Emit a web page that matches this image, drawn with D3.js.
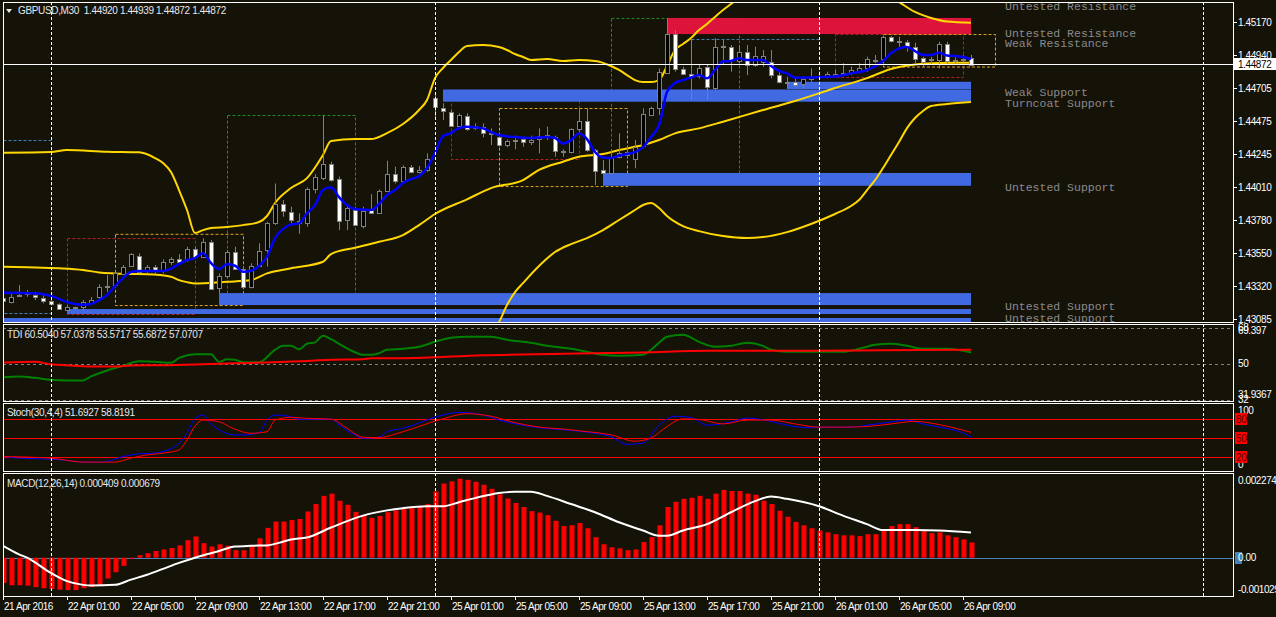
<!DOCTYPE html>
<html>
<head>
<meta charset="utf-8">
<script src="https://cdn.jsdelivr.net/npm/d3@7"></script>
<style>
  body { margin: 0; background: #151208; }
  svg { display: block; }
  text { font-family: "Liberation Sans", Arial, sans-serif; }
</style>
</head>
<body>
<svg id="chart" width="1276" height="617"></svg>
<script>
// ---- data ----
const symbolTitle = "GBPUSD,M30  1.44920 1.44939 1.44872 1.44872";
const tdiTitle = "TDI 60.5040 57.0378 53.5717 55.6872 57.0707";
const stochTitle = "Stoch(30,4,4) 51.6927 58.8191";
const macdTitle = "MACD(12,26,14) 0.000409 0.000679";
const lastPrice = 1.44872;

const timeTickBars = [0, 8, 16, 24, 32, 40, 48, 56, 64, 72, 80, 88, 96, 104, 112, 120];
const timeLabels = ["21 Apr 2016", "22 Apr 01:00", "22 Apr 05:00", "22 Apr 09:00", "22 Apr 13:00",
  "22 Apr 17:00", "22 Apr 21:00", "25 Apr 01:00", "25 Apr 05:00", "25 Apr 09:00", "25 Apr 13:00",
  "25 Apr 17:00", "25 Apr 21:00", "26 Apr 01:00", "26 Apr 05:00", "26 Apr 09:00"];
const separatorBars = [6, 54, 102, 150];
const priceTicks = [1.45170, 1.44940, 1.44705, 1.44475, 1.44245, 1.44010, 1.43780, 1.43550, 1.43320, 1.43085];

const opens = [1.43234,1.43209,1.43241,1.43269,1.43253,1.43230,1.43211,1.43188,1.43153,1.43167,
  1.43168,1.43197,1.43241,1.43311,1.43323,1.43405,1.43457,1.43529,1.43417,1.43452,
  1.43417,1.43482,1.43508,1.43503,1.43574,1.43520,1.43623,1.43300,1.43387,1.43553,
  1.43438,1.43311,1.43459,1.43564,1.43756,1.43890,1.43838,1.43759,1.43756,1.43995,
  1.44072,1.44171,1.44065,1.43780,1.43850,1.43742,1.43850,1.43830,1.43985,1.44102,
  1.44051,1.44150,1.44117,1.44131,1.44634,1.44564,1.44540,1.44442,1.44512,1.44423,
  1.44435,1.44390,1.44364,1.44301,1.44332,1.44345,1.44329,1.44345,1.44373,1.44364,
  1.44264,1.44255,1.44416,1.44475,1.44271,1.44131,1.44112,1.44224,1.44257,1.44213,
  1.44294,1.44522,1.44568,1.44814,1.45085,1.44837,1.44805,1.44791,1.44852,1.44704,
  1.44996,1.44992,1.44898,1.44961,1.44868,1.44891,1.44887,1.44797,1.44748,1.44751,
  1.44732,1.44767,1.44786,1.44791,1.44797,1.44805,1.44814,1.44821,1.44844,1.44906,
  1.44908,1.45062,1.45031,1.45031,1.44996,1.44915,1.44898,1.44903,1.45015,1.44898,
  1.44906,1.44920];
const highs = [1.43241,1.43265,1.43323,1.43288,1.43276,1.43253,1.43230,1.43195,1.43183,1.43171,
  1.43218,1.43239,1.43328,1.43393,1.43417,1.43464,1.43546,1.43546,1.43464,1.43464,
  1.43503,1.43520,1.43541,1.43592,1.43592,1.43651,1.43639,1.43405,1.43569,1.43592,
  1.43452,1.43476,1.43616,1.43768,1.44036,1.43920,1.43873,1.43827,1.44009,1.44102,
  1.44517,1.44189,1.44084,1.43873,1.43873,1.43873,1.43962,1.43995,1.44196,1.44154,
  1.44164,1.44166,1.44159,1.44248,1.44669,1.44599,1.44552,1.44529,1.44529,1.44458,
  1.44458,1.44423,1.44372,1.44345,1.44372,1.44364,1.44372,1.44423,1.44435,1.44372,
  1.44276,1.44423,1.44564,1.44564,1.44278,1.44201,1.44271,1.44388,1.44294,1.44341,
  1.44564,1.44575,1.44844,1.45196,1.45113,1.44856,1.45057,1.44868,1.44868,1.45055,
  1.45043,1.45008,1.45008,1.45008,1.44996,1.44973,1.44973,1.44821,1.44786,1.44786,
  1.44786,1.44844,1.44821,1.44821,1.44833,1.44880,1.44856,1.44880,1.44926,1.44938,
  1.45071,1.45071,1.45066,1.45043,1.45024,1.44926,1.44926,1.45031,1.45031,1.44926,
  1.44938,1.44939];
const lows = [1.43195,1.43195,1.43239,1.43241,1.43218,1.43195,1.43183,1.43148,1.43143,1.43148,
  1.43148,1.43183,1.43218,1.43276,1.43311,1.43393,1.43452,1.43405,1.43405,1.43405,
  1.43405,1.43464,1.43476,1.43487,1.43504,1.43515,1.43288,1.43265,1.43370,1.43430,
  1.43300,1.43300,1.43452,1.43452,1.43745,1.43803,1.43756,1.43683,1.43733,1.43967,
  1.44060,1.44049,1.43709,1.43709,1.43737,1.43721,1.43823,1.43823,1.43978,1.44036,
  1.44041,1.44108,1.44108,1.44119,1.44482,1.44482,1.44440,1.44435,1.44406,1.44411,
  1.44360,1.44306,1.44294,1.44290,1.44276,1.44294,1.44306,1.44248,1.44341,1.44224,
  1.44224,1.44248,1.44400,1.44259,1.44026,1.44096,1.44108,1.44213,1.44213,1.44143,
  1.44283,1.44517,1.44517,1.44805,1.44821,1.44797,1.44622,1.44774,1.44622,1.44692,
  1.44868,1.44821,1.44880,1.44797,1.44856,1.44856,1.44774,1.44739,1.44704,1.44720,
  1.44704,1.44751,1.44762,1.44774,1.44786,1.44797,1.44797,1.44809,1.44821,1.44880,
  1.44903,1.45026,1.44996,1.44961,1.44880,1.44856,1.44868,1.44844,1.44868,1.44880,
  1.44891,1.44872];
const closes = [1.43211,1.43241,1.43250,1.43260,1.43241,1.43211,1.43190,1.43153,1.43171,1.43170,
  1.43206,1.43218,1.43311,1.43314,1.43405,1.43452,1.43541,1.43417,1.43448,1.43430,
  1.43482,1.43504,1.43487,1.43576,1.43518,1.43625,1.43293,1.43387,1.43553,1.43435,
  1.43311,1.43459,1.43564,1.43756,1.43892,1.43843,1.43780,1.43773,1.43995,1.44079,
  1.44171,1.44060,1.43773,1.43862,1.43745,1.43845,1.43828,1.43985,1.44102,1.44051,
  1.44150,1.44117,1.44131,1.44206,1.44571,1.44545,1.44442,1.44517,1.44418,1.44440,
  1.44392,1.44383,1.44311,1.44332,1.44339,1.44325,1.44343,1.44369,1.44362,1.44264,
  1.44255,1.44416,1.44475,1.44271,1.44126,1.44108,1.44224,1.44250,1.44233,1.44294,
  1.44522,1.44568,1.44821,1.45085,1.44837,1.44805,1.44786,1.44844,1.44711,1.44992,
  1.44998,1.44898,1.44961,1.44868,1.44933,1.44931,1.44797,1.44746,1.44743,1.44732,
  1.44769,1.44781,1.44791,1.44805,1.44808,1.44814,1.44833,1.44844,1.44908,1.44899,
  1.45062,1.45031,1.45033,1.44996,1.44915,1.44884,1.44908,1.45015,1.44898,1.44906,
  1.44913,1.44872];

// blue moving average and bollinger bands: [bar, price]
const maBlue = [[0,1.43269],[4,1.43265],[6,1.43246],[8,1.43204],[9,1.43190],[10,1.43185],[11,1.43190],
  [12,1.43218],[13,1.43253],[14,1.43316],[15,1.43372],[16,1.43415],[17,1.43422],[20,1.43422],[21,1.43439],
  [22,1.43471],[23,1.43499],[24,1.43513],[25,1.43546],[26,1.43478],[27,1.43436],[28,1.43469],[29,1.43459],
  [30,1.43417],[31,1.43424],[32,1.43457],[33,1.43522],[34,1.43653],[35,1.43716],[36,1.43749],[37,1.43756],
  [38,1.43827],[39,1.43885],[40,1.43990],[41,1.44009],[42,1.43941],[43,1.43885],[44,1.43857],[45,1.43853],
  [46,1.43850],[47,1.43892],[48,1.43955],[49,1.43990],[50,1.44039],[51,1.44067],[52,1.44088],[53,1.44145],
  [54,1.44250],[55,1.44369],[56,1.44390],[57,1.44425],[58,1.44435],[60,1.44423],[61,1.44397],[62,1.44376],
  [64,1.44362],[66,1.44355],[68,1.44362],[69,1.44355],[70,1.44317],[71,1.44341],[72,1.44387],[73,1.44348],
  [74,1.44257],[75,1.44218],[76,1.44215],[77,1.44232],[78,1.44243],[79,1.44257],[80,1.44292],[81,1.44362],
  [82,1.44446],[83,1.44678],[84,1.44741],[85,1.44762],[86,1.44780],[87,1.44797],[88,1.44774],[89,1.44833],
  [90,1.44892],[91,1.44896],[92,1.44915],[93,1.44903],[95,1.44903],[96,1.44861],[97,1.44826],[98,1.44809],
  [99,1.44779],[101,1.44780],[104,1.44787],[106,1.44809],[108,1.44833],[110,1.44896],[111,1.44950],
  [112,1.44984],[113,1.44994],[114,1.44966],[115,1.44938],[116,1.44938],[117,1.44954],[118,1.44934],
  [119,1.44931],[120,1.44924],[121,1.44910]];
const bbUpper = [[0,1.44252],[6,1.44257],[8,1.44271],[13,1.44259],[17,1.44255],[19,1.44215],[20,1.44180],
  [21,1.44117],[22,1.43990],[23,1.43850],[24,1.43688],[25,1.43709],[26,1.43723],[28,1.43730],[30,1.43744],
  [32,1.43766],[33,1.43808],[34,1.43899],[36,1.44004],[38,1.44074],[40,1.44236],[41,1.44334],[44,1.44348],
  [46,1.44348],[48,1.44390],[50,1.44454],[52,1.44552],[53,1.44622],[54,1.44776],[55,1.44847],[56,1.44903],
  [57,1.44959],[58,1.45001],[60,1.45008],[62,1.44994],[63,1.44973],[64,1.44945],[65,1.44924],[66,1.44903],
  [68,1.44910],[70,1.44896],[72,1.44903],[74,1.44896],[76,1.44861],[77,1.44833],[78,1.44797],[79,1.44762],
  [80,1.44748],[81,1.44748],[82,1.44762],[83,1.44861],[84,1.44973],[85,1.45015],[86,1.45057],[87,1.45113],
  [88,1.45156],[89,1.45205],[90,1.45254],[91,1.45296],[92,1.45338],[94,1.45420],[98,1.45500],[102,1.45520],
  [106,1.45480],[110,1.45380],[112,1.45310],[114,1.45240],[116,1.45198],[118,1.45173],[121,1.45165]];
const bbMiddle = [[0,1.43452],[3,1.43448],[7,1.43441],[10,1.43429],[12,1.43412],[16,1.43401],[18,1.43399],
  [21,1.43382],[22,1.43358],[23,1.43344],[24,1.43335],[26,1.43339],[28,1.43346],[31,1.43358],[33,1.43405],
  [36,1.43441],[40,1.43487],[41,1.43541],[44,1.43585],[47,1.43627],[50,1.43674],[52,1.43744],[54,1.43822],
  [58,1.43925],[61,1.44004],[65,1.44060],[67,1.44131],[70,1.44189],[72,1.44224],[75,1.44243],[77,1.44271],
  [80,1.44306],[82,1.44341],[84,1.44388],[87,1.44423],[90,1.44470],[95,1.44552],[99,1.44615],[104,1.44706],
  [108,1.44776],[111,1.44840],[114,1.44871],[117,1.44882],[121,1.44884]];
const bbLower = [[0,1.42652],[20,1.42580],[24,1.42982],[34,1.42941],[40,1.42738],[46,1.42852],[52,1.42936],
  [56,1.42857],[60,1.42950],[62,1.43064],[63,1.43183],[64,1.43274],[65,1.43337],[67,1.43457],[69,1.43555],
  [71,1.43611],[73,1.43653],[75,1.43709],[77,1.43780],[79,1.43850],[80,1.43885],[81,1.43899],[82,1.43864],
  [83,1.43808],[85,1.43737],[87,1.43702],[90,1.43667],[93,1.43653],[95,1.43660],[98,1.43695],[101,1.43752],
  [104,1.43822],[106,1.43878],[107,1.43920],[108,1.43990],[109,1.44060],[110,1.44145],[111,1.44236],
  [112,1.44327],[113,1.44425],[114,1.44496],[115,1.44545],[116,1.44580],[118,1.44594],[121,1.44608]];

// supply / demand zones
const zoneFrom = [83, 55, 98, 75, 27, 8, 0];
const zoneTo = [121, 121, 121, 121, 121, 121, 121];
const zoneHigh = [1.45198, 1.44696, 1.44750, 1.44110, 1.43267, 1.43155, 1.43092];
const zoneLow = [1.45085, 1.44610, 1.44699, 1.44020, 1.43183, 1.43120, 1.43064];
const zoneKind = ["supply", "demand", "demand", "demand", "demand", "demand", "demand"];
const zoneLabelPrice = [1.45275, 1.45087, 1.45017, 1.44673, 1.44596, 1.44006, 1.43171, 1.43087];
const zoneLabelText = ["Untested Resistance", "Untested Resistance", "Weak Resistance", "Weak Support",
  "Turncoat Support", "Untested Support", "Untested Support", "Untested Support"];

// dashed range boxes
const boxFrom = [-10, 8, 14, 28, 56, 62, 76, 86, 104, 110];
const boxTo = [6, 24, 30, 44, 72, 78, 92, 102, 120, 124];
const boxHigh = [1.44341, 1.43653, 1.43683, 1.44517, 1.44671, 1.44566, 1.45198, 1.45050, 1.45085, 1.45085];
const boxLow = [1.43127, 1.43120, 1.43183, 1.43211, 1.44208, 1.44018, 1.44067, 1.44622, 1.44784, 1.44857];
const boxSet = [0, 1, 2, 3, 1, 2, 3, 0, 1, 2];

// TDI: [bar, value]
const tdiPrice = [[0,43.2],[2,43.7],[4,43.0],[6,42.0],[8,41.7],[10,41.7],[11,43.7],[13,46.7],[15,49],[17,51.3],
  [19,51],[21,50.5],[22,53],[24,54.8],[26,54.8],[27,51],[28,52.3],[29,52],[30,50.8],[32,50.8],[34,57],
  [35,59],[36,59],[37,57.3],[38,60],[39,60.7],[40,64],[41,62.3],[42,60],[44,55.8],[45,54.5],[46,54.5],
  [47,55.3],[48,57],[50,57.5],[52,58.5],[54,61],[56,63],[58,63.5],[61,63.5],[63,62],[66,60.5],[68,59],
  [71,57.5],[73,56],[75,54.5],[77,54],[80,54.5],[81,57],[82,60.5],[83,63.5],[85,64.5],[87,61],[89,58.5],
  [91,59],[93,60.5],[95,59],[96,57],[98,56],[101,56],[105,56],[107,57.5],[109,59.5],[111,60],[113,59],
  [115,57.5],[118,57.5],[121,55.7]];
const tdiSignal = [[0,50.7],[4,51],[6,49.8],[8,49.3],[11,48.7],[14,48.7],[16,49.2],[20,49.3],[25,49.8],
  [29,50.3],[33,50.7],[37,51.3],[41,52],[45,52.3],[46,52.8],[50,52.8],[60,54.3],[70,55],[80,55.7],
  [88,56.5],[100,56.5],[110,56.8],[121,57.07]];
const tdiLevels = [68, 50, 32];

// Stochastic: [bar, value]
const stochMain = [[0,21],[2,18.5],[6,17],[8,14.8],[10,12.3],[12,12.3],[13,13.3],[15,21],[17,25.2],[19,26.3],
  [20,28.8],[22,41.8],[23,57.4],[24,80.7],[25,85.8],[26,72],[27,62.5],[29,54.7],[30,54.7],[32,58.3],[33,78],
  [34,85.8],[36,83.2],[37,79.2],[38,79.2],[41,79.6],[42,70.3],[44,54.7],[45,49.6],[47,51.2],[48,59.9],
  [50,65.2],[55,86],[57,90],[60,86],[62,78],[65,70],[67,66],[70,63],[73,59],[76,52],[78,40],[80,42],
  [82,70],[84,84],[86,82],[88,70],[91,75],[93,81],[96,76],[98,70],[101,66],[103,67],[106,67],[108,70],
  [111,75],[113,78],[115,72],[117,67],[120,58],[121,51.7]];
const stochSignal = [[0,21],[6,18.5],[10,12.3],[14,12.3],[16,18.5],[18,23.6],[20,26.3],[22,31.4],[23,47],
  [24,68.7],[25,78],[27,75.4],[29,63.6],[31,57.4],[33,59.9],[34,78],[36,82.3],[38,80.7],[41,79.6],[43,65.2],
  [45,51.2],[47,50.6],[50,59.9],[55,80],[58,88],[61,84],[64,74],[67,67],[70,64],[73,60],[76,55],[79,45],
  [81,50],[83,68],[85,80],[87,79],[90,72],[93,78],[96,78],[99,72],[102,67],[105,67],[108,68],[111,72],
  [114,76],[117,71],[121,58.8]];
const stochLevels = [80, 50, 20];

// MACD histogram (one per bar) and signal [bar, value]
const macdHist = [-0.00068,-0.00074,-0.00074,-0.00075,-0.00079,-0.00082,-0.00084,-0.00086,-0.00087,-0.00087,
  -0.00082,-0.00079,-0.00075,-0.00056,-0.00039,-0.00022,-0.00003,0.000065,0.00012,0.00018,
  0.00022,0.00026,0.00033,0.00047,0.00057,0.00039,0.00030,0.00036,0.00032,0.00020,
  0.00020,0.00033,0.00052,0.00080,0.00097,0.00097,0.00101,0.00104,0.00124,0.00144,
  0.00166,0.00172,0.00153,0.00142,0.00123,0.00114,0.00107,0.00112,0.00122,0.00127,
  0.00131,0.00133,0.00136,0.00144,0.00178,0.00199,0.00205,0.00212,0.00209,0.00204,
  0.00196,0.00185,0.00170,0.00159,0.00147,0.00136,0.00125,0.00121,0.00114,0.00099,
  0.00085,0.00087,0.00093,0.00079,0.00055,0.00036,0.00028,0.00025,0.00020,0.00022,
  0.00042,0.00055,0.00087,0.00136,0.00150,0.00158,0.00161,0.00166,0.00158,0.00172,
  0.00182,0.00179,0.00179,0.00172,0.00169,0.00153,0.00144,0.00126,0.00110,0.00096,
  0.00087,0.00079,0.00073,0.00068,0.00063,0.00060,0.00060,0.00058,0.00063,0.00063,
  0.00073,0.00085,0.00090,0.00090,0.00082,0.00071,0.00066,0.00068,0.00060,0.00055,
  0.00049,0.000409];
const macdSignal = [[0,0.00032],[2,0.00009],[3,0],[6,-0.00041],[8,-0.00063],[10,-0.00073],[11,-0.00075],
  [14,-0.00073],[16,-0.00059],[18,-0.00046],[20,-0.00030],[22,-0.00014],[24,0],[27,0.00018],[29,0.00030],
  [31,0.00032],[33,0.00033],[35,0.00043],[36,0.00049],[38,0.00054],[41,0.00081],[45,0.00113],[48,0.00127],
  [50,0.00133],[53,0.00138],[55,0.00138],[57,0.00149],[59,0.00160],[62,0.00174],[64,0.00177],[66,0.00177],
  [68,0.00166],[71,0.00144],[74,0.00122],[77,0.00095],[80,0.00073],[82,0.00059],[83,0.00059],[85,0.00073],
  [88,0.00090],[91,0.00122],[94,0.00152],[96,0.00164],[98,0.00158],[102,0.00138],[105,0.00113],
  [108,0.00090],[110,0.00074],[114,0.00074],[117,0.00073],[121,0.000679]];

// ---- layout ----
const W = 1276, H = 617;
const plotLeft = 3, plotRight = 1233;
const panels = {
  main: { top: 2, bottom: 322 },
  tdi: { top: 324, bottom: 401 },
  stoch: { top: 403, bottom: 471 },
  macd: { top: 473, bottom: 596 }
};
const bg = "#151208";
const axisText = "#ffffff";

const svg = d3.select("#chart");
svg.append("rect").attr("width", W).attr("height", H).attr("fill", bg);

const x = d3.scaleLinear().domain([0, 153.75]).range([plotLeft, plotRight]);
const yMain = d3.scaleLinear().domain([1.43064, 1.45310]).range([panels.main.bottom, panels.main.top]);
const yTdi = d3.scaleLinear().domain([31.9367, 69.397]).range([400, 325]);
const yStoch = d3.scaleLinear().domain([0, 100]).range([470, 406]);
const yMacd = d3.scaleLinear().domain([-0.001029, 0.002274]).range([panels.macd.bottom, panels.macd.top]);

const defs = svg.append("defs");
Object.entries(panels).forEach(([k, p]) => {
  defs.append("clipPath").attr("id", "clip-" + k)
    .append("rect").attr("x", plotLeft + 1).attr("y", p.top + 1)
    .attr("width", plotRight - plotLeft - 1).attr("height", p.bottom - p.top - 1);
});
const layer = k => svg.append("g").attr("clip-path", `url(#clip-${k})`);

function seriesLine(g, pts, yScale, color, width) {
  g.append("path")
    .datum(pts)
    .attr("fill", "none")
    .attr("stroke", color)
    .attr("stroke-width", width)
    .attr("stroke-linejoin", "round")
    .attr("d", d3.line().x(d => x(d[0])).y(d => yScale(d[1])).curve(d3.curveMonotoneX));
}

function separators(g, p) {
  separatorBars.forEach(b => {
    g.append("line")
      .attr("x1", x(b) + 0.5).attr("x2", x(b) + 0.5)
      .attr("y1", p.top).attr("y2", p.bottom)
      .attr("stroke", "#ffffff").attr("stroke-dasharray", "3,2");
  });
}

function axisLabel(yPos, txt, dy) {
  svg.append("text")
    .attr("x", 1238).attr("y", yPos + (dy || 0))
    .attr("dominant-baseline", "central")
    .attr("font-size", 10).attr("letter-spacing", -0.4)
    .attr("fill", axisText).text(txt);
}

// ---- main price panel ----
const main = layer("main");

const boxColors = ["#4682b4", "#b22222", "#daa520", "#228b22"];
main.append("g").selectAll("rect")
  .data(d3.range(boxFrom.length))
  .join("rect")
  .attr("x", i => x(boxFrom[i]) + 0.5)
  .attr("y", i => yMain(boxHigh[i]) + 0.5)
  .attr("width", i => x(boxTo[i]) - x(boxFrom[i]))
  .attr("height", i => yMain(boxLow[i]) - yMain(boxHigh[i]))
  .attr("fill", "none")
  .attr("stroke", i => boxColors[boxSet[i]])
  .attr("stroke-dasharray", "3,2");

main.append("g").selectAll("rect")
  .data(d3.range(zoneFrom.length))
  .join("rect")
  .attr("x", i => x(zoneFrom[i]))
  .attr("y", i => yMain(zoneHigh[i]))
  .attr("width", i => x(zoneTo[i]) - x(zoneFrom[i]))
  .attr("height", i => yMain(zoneLow[i]) - yMain(zoneHigh[i]))
  .attr("fill", i => zoneKind[i] === "supply" ? "#dc143c" : "#4169e1");

seriesLine(main, bbUpper, yMain, "#ffd700", 2);
seriesLine(main, bbMiddle, yMain, "#ffd700", 2);
seriesLine(main, bbLower, yMain, "#ffd700", 2);

const candles = main.append("g").selectAll("g")
  .data(d3.range(opens.length))
  .join("g");
candles.append("line")
  .attr("x1", i => x(i) + 0.5).attr("x2", i => x(i) + 0.5)
  .attr("y1", i => yMain(highs[i])).attr("y2", i => yMain(lows[i]))
  .attr("stroke", "#808080");
candles.append("rect")
  .attr("x", i => x(i) - 1.5)
  .attr("width", 4)
  .attr("y", i => Math.round(yMain(Math.max(opens[i], closes[i]))) + 0.5)
  .attr("height", i => Math.max(1, Math.round(Math.abs(yMain(opens[i]) - yMain(closes[i])))))
  .attr("fill", i => closes[i] >= opens[i] ? "#000000" : "#ffffff")
  .attr("stroke", "#808080");

seriesLine(main, maBlue, yMain, "#0000ff", 2.5);

main.append("line")
  .attr("x1", plotLeft).attr("x2", plotRight)
  .attr("y1", Math.round(yMain(lastPrice)) + 0.5).attr("y2", Math.round(yMain(lastPrice)) + 0.5)
  .attr("stroke", "#ffffff");

separators(main, panels.main);

main.append("g").selectAll("text")
  .data(d3.range(zoneLabelText.length))
  .join("text")
  .attr("x", 1005)
  .attr("y", i => yMain(zoneLabelPrice[i]))
  .attr("dominant-baseline", "central")
  .style("font-family", "'Liberation Mono', 'Courier New', monospace")
  .attr("font-size", 11.5)
  .attr("fill", "#8a8a8a")
  .text(i => zoneLabelText[i]);

// title with the small dropdown triangle
svg.append("path")
  .attr("d", "M6,9 L12,9 L9,13 Z").attr("fill", "#e8e8e8");
svg.append("text")
  .attr("x", 18).attr("y", 14)
  .attr("font-size", 10).attr("letter-spacing", -0.35)
  .attr("fill", "#e4e8ee")
  .style("white-space", "pre")
  .text(symbolTitle);

// price axis
priceTicks.forEach(v => {
  const yy = Math.round(yMain(v)) + 0.5;
  svg.append("line").attr("x1", plotRight).attr("x2", plotRight + 4)
    .attr("y1", yy).attr("y2", yy).attr("stroke", "#ffffff");
  axisLabel(yy, d3.format(".5f")(v));
});
const lp = Math.round(yMain(lastPrice));
svg.append("rect").attr("x", 1234).attr("y", lp - 6).attr("width", 42).attr("height", 12).attr("fill", "#ffffff");
svg.append("text").attr("x", 1238).attr("y", lp)
  .attr("dominant-baseline", "central").attr("font-size", 10).attr("letter-spacing", -0.4)
  .attr("fill", "#000000").text(d3.format(".5f")(lastPrice));

// ---- TDI panel ----
const tdi = layer("tdi");
tdiLevels.forEach(v => {
  tdi.append("line").attr("x1", plotLeft).attr("x2", plotRight)
    .attr("y1", Math.round(yTdi(v)) + 0.5).attr("y2", Math.round(yTdi(v)) + 0.5)
    .attr("stroke", "#808080").attr("stroke-dasharray", "3,3");
});
seriesLine(tdi, tdiPrice, yTdi, "#008000", 2);
seriesLine(tdi, tdiSignal, yTdi, "#ff0000", 2);
separators(tdi, panels.tdi);
svg.append("text").attr("x", 7).attr("y", 337.5).attr("font-size", 10).attr("letter-spacing", -0.35)
  .attr("fill", "#e4e8ee").text(tdiTitle);
axisLabel(yTdi(68), "68");
axisLabel(yTdi(69.397), "69.397", 5);
axisLabel(yTdi(50), "50");
axisLabel(yTdi(32), "32");
axisLabel(yTdi(31.9367), "31.9367", -6);

// ---- Stochastic panel ----
const stoch = layer("stoch");
stochLevels.forEach(v => {
  stoch.append("line").attr("x1", plotLeft).attr("x2", plotRight)
    .attr("y1", Math.round(yStoch(v)) + 0.5).attr("y2", Math.round(yStoch(v)) + 0.5)
    .attr("stroke", "#ff0000");
});
seriesLine(stoch, stochMain, yStoch, "#0000ff", 1);
seriesLine(stoch, stochSignal, yStoch, "#ff0000", 1);
separators(stoch, panels.stoch);
svg.append("text").attr("x", 7).attr("y", 416).attr("font-size", 10).attr("letter-spacing", -0.35)
  .attr("fill", "#e4e8ee").text(stochTitle);
axisLabel(yStoch(100), "100", 4);
axisLabel(yStoch(0), "0", -6);
stochLevels.forEach(v => {
  const yy = Math.round(yStoch(v));
  svg.append("rect").attr("x", 1235).attr("y", yy - 6).attr("width", 12).attr("height", 12).attr("fill", "#ff0000");
  svg.append("text").attr("x", 1236).attr("y", yy).attr("dominant-baseline", "central")
    .attr("font-size", 10).attr("letter-spacing", -0.4).attr("fill", "#5a0000").text(v);
});

// ---- MACD panel ----
const macd = layer("macd");
macd.append("line").attr("x1", plotLeft).attr("x2", plotRight)
  .attr("y1", Math.round(yMacd(0)) + 0.5).attr("y2", Math.round(yMacd(0)) + 0.5)
  .attr("stroke", "#4682b4");
macd.append("g").selectAll("rect")
  .data(macdHist)
  .join("rect")
  .attr("x", (d, i) => x(i) - 1.5)
  .attr("width", 5)
  .attr("y", d => yMacd(Math.max(0, d)))
  .attr("height", d => Math.abs(yMacd(d) - yMacd(0)))
  .attr("fill", "#ff0000");
seriesLine(macd, macdSignal, yMacd, "#ffffff", 2);
separators(macd, panels.macd);
svg.append("text").attr("x", 7).attr("y", 486.5).attr("font-size", 10).attr("letter-spacing", -0.35)
  .attr("fill", "#e4e8ee").text(macdTitle);
axisLabel(yMacd(0.002274), "0.002274", 7);
svg.append("rect").attr("x", 1235).attr("y", Math.round(yMacd(0)) - 6).attr("width", 7).attr("height", 12).attr("fill", "#4682b4");
axisLabel(yMacd(0), "0.00");
axisLabel(yMacd(-0.001029), "-0.001029", -7);

// ---- frames ----
Object.values(panels).forEach(p => {
  svg.append("rect")
    .attr("x", plotLeft + 0.5).attr("y", p.top + 0.5)
    .attr("width", plotRight - plotLeft).attr("height", p.bottom - p.top)
    .attr("fill", "none").attr("stroke", "#ffffff");
});

// ---- time axis ----
timeTickBars.forEach((b, i) => {
  svg.append("line").attr("x1", x(b) + 0.5).attr("x2", x(b) + 0.5)
    .attr("y1", panels.macd.bottom).attr("y2", panels.macd.bottom + 4)
    .attr("stroke", "#ffffff");
  svg.append("text").attr("x", x(b) + 1).attr("y", 610)
    .attr("font-size", 10).attr("letter-spacing", -0.45)
    .attr("fill", axisText).text(timeLabels[i]);
});
</script>
</body>
</html>
